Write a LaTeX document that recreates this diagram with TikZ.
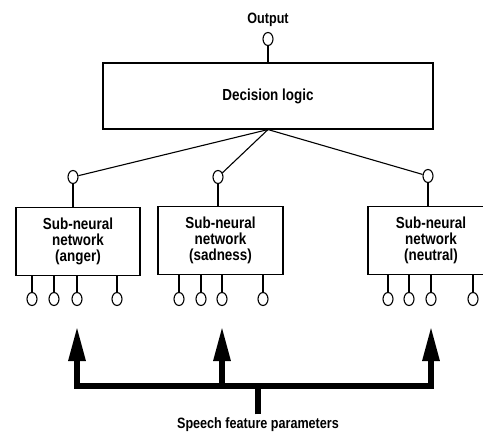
\documentclass[tikz,border=0pt]{standalone}
\usepackage{fontspec}
\setmainfont{Liberation Sans}[FakeStretch=0.84]
\usetikzlibrary{shapes.geometric,arrows.meta}

\newcommand*{\portw}{10pt}
\newcommand*{\porth}{13pt}
\newcommand*{\tipgap}{20pt}

\begin{document}
\begin{tikzpicture}
[
	x=1pt,
	y=-1pt,
	port/.style={ellipse,draw,inner sep=0pt,minimum width=\portw,minimum height=\porth,line width=1.1pt},
	netbox/.style={draw,line width=1.1pt,minimum height=68pt,align=center,font=\fontsize{16}{16}\selectfont\bfseries},
	wire/.style={line width=1.1pt},
	feed/.style={line width=6pt,line join=miter},
	lbl/.style={font=\fontsize{15}{16}\selectfont\bfseries}
]

	\useasboundingbox (0,0) rectangle (483,434);
	\clip (0,0) rectangle (483,434);

	% output and decision logic
	\node[lbl] (outlbl) at (268,20) {Output};
	\node[port] (out) at (268,39) {};
	\node[netbox,minimum width=330pt,minimum height=66pt] (logic) at (268,96) {Decision logic};
	\draw[wire] (out) -- (logic);

	% sub-neural networks
	\node[netbox,minimum width=124pt] (anger) at (78,241.5) {Sub-neural\\network\\(anger)};
	\node[netbox,minimum width=125pt] (sadness) at (220.5,240.5) {Sub-neural\\network\\(sadness)};
	\node[netbox,minimum width=126pt] (neutral) at (431,240.5) {Sub-neural\\network\\(neutral)};

	\node[port] (ta) at (73,177) {};
	\node[port] (ts) at (218,177) {};
	\node[port] (tn) at (428,176) {};
	\draw[wire] (logic.south) -- (ta);
	\draw[wire] (logic.south) -- (ts);
	\draw[wire] (logic.south) -- (tn);
	\draw[wire] (ta) -- (ta |- anger.north);
	\draw[wire] (ts) -- (ts |- sadness.north);
	\draw[wire] (tn) -- (tn |- neutral.north);

	% inputs
	\foreach \x [count=\i] in {32,54,77,117} {
		\node[port] (a\i) at (\x,299) {};
		\draw[wire] (a\i) -- (a\i |- anger.south);
	}
	\foreach \x [count=\i] in {179,201,222,263} {
		\node[port] (s\i) at (\x,299) {};
		\draw[wire] (s\i) -- (s\i |- sadness.south);
	}
	\foreach \x [count=\i] in {388,409,431,473} {
		\node[port] (n\i) at (\x,299) {};
		\draw[wire] (n\i) -- (n\i |- neutral.south);
	}

	% speech features
	\node[lbl] (feat) at (258,425) {Speech feature parameters};
	\coordinate (bus) at (258,386);
	\draw[feed] (feat.north) -- (bus);
	\draw[feed,-{Triangle[length=35pt,width=16pt]}] (bus) -| ([yshift=-\tipgap]a3.south);
	\draw[feed,-{Triangle[length=35pt,width=16pt]}] (bus -| s3) -- ([yshift=-\tipgap]s3.south);
	\draw[feed,-{Triangle[length=35pt,width=16pt]}] (bus) -| ([yshift=-\tipgap]n3.south);

\end{tikzpicture}
\end{document}
